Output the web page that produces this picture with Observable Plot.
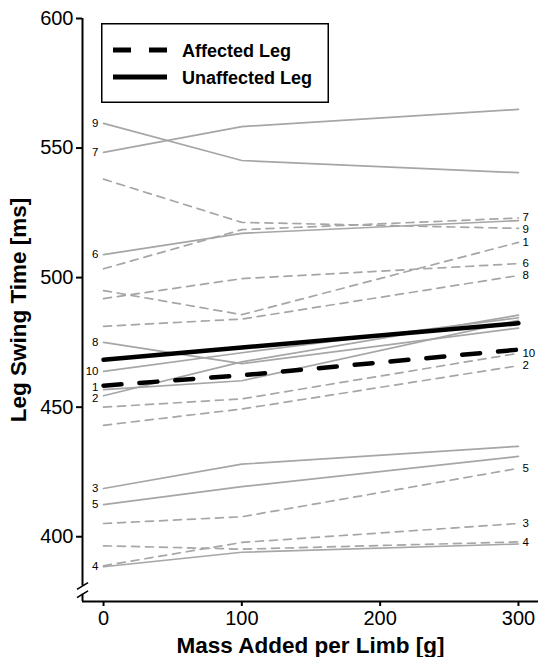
<!DOCTYPE html>
<html><head><meta charset="utf-8">
<script src="https://cdn.jsdelivr.net/npm/d3@7"></script>
<script src="https://cdn.jsdelivr.net/npm/@observablehq/plot@0.6"></script>
<style>
html,body{margin:0;padding:0;background:#fff;}
#wrap{position:relative;width:538px;height:657px;font-family:'Liberation Sans',Arial,sans-serif;}
#legend{position:absolute;left:101px;top:23px;}
</style></head><body><div id="wrap"></div>
<script>
// ---- data ----
const loads = [0, 100, 300];                  // Mass added per limb [g]
const subjects = [1, 2, 3, 4, 5, 6, 7, 8, 9, 10];
// Unaffected leg swing time [ms], one row per subject, values at loads 0/100/300
const unaffected = [
  [456.8, 460.2, 483.5],
  [454.4, 467.5, 485.5],
  [418.6, 428.0, 434.9],
  [388.4, 394.0, 397.2],
  [412.4, 419.3, 431.0],
  [508.9, 517.1, 522.0],
  [548.3, 558.3, 564.9],
  [475.0, 466.8, 480.5],
  [559.5, 545.2, 540.5],
  [463.8, 471.0, 484.5]
];
// Affected leg swing time [ms]
const affected = [
  [495.0, 485.7, 513.6],
  [443.0, 449.3, 466.0],
  [388.8, 397.8, 405.1],
  [396.5, 395.2, 398.0],
  [405.1, 407.7, 426.4],
  [491.9, 499.6, 505.4],
  [503.4, 518.5, 523.0],
  [481.2, 484.0, 500.8],
  [538.0, 521.3, 519.0],
  [450.0, 453.2, 470.8]
];
const meanAffected = [458.3, 462.3, 472.2];
const meanUnaffected = [468.3, 473.0, 482.4];
const xTicks = [0, 100, 200, 300];
const yTicks = [400, 450, 500, 550, 600];
const seriesNames = ["Affected Leg", "Unaffected Leg"];
const xDomain = [-15.2, 314.5];
const yDomain = [375, 600];
const axisBreak = [381.0, 377.8];   // y values where the axis break marks sit

// ---- build tables ----
const rows = [];
subjects.forEach((s, i) => loads.forEach((l, j) => {
  rows.push({subject: s, leg: "U", load: l, t: unaffected[i][j]});
  rows.push({subject: s, leg: "A", load: l, t: affected[i][j]});
}));
const means = [];
loads.forEach((l, j) => {
  means.push({leg: "A", load: l, t: meanAffected[j]});
  means.push({leg: "U", load: l, t: meanUnaffected[j]});
});

// simple label repel in data units
function repel(items, gap) {
  const a = items.slice().sort((p, q) => q.v - p.v);
  for (let k = 0; k < 30; k++) {
    for (let i = 1; i < a.length; i++) {
      const d = a[i - 1].v - a[i].v;
      if (d < gap) { const m = (gap - d) / 2; a[i - 1].v += m; a[i].v -= m; }
    }
  }
  return a;
}
const leftLabels = repel(subjects.map((s, i) => ({label: String(s), v: unaffected[i][0], x: loads[0]})), 4.2);
const rightLabels = repel(subjects.map((s, i) => ({label: String(s), v: affected[i][loads.length - 1], x: loads[loads.length - 1]})), 4.4);

const xMin = xDomain[0];
const axisSegs = [
  {x: xMin, y1: yDomain[1], y2: axisBreak[0]},
  {x: xMin, y1: axisBreak[1], y2: yDomain[0]}
];
const gray = "#a6a6a6";

const plot = Plot.plot({
  width: 538, height: 657,
  marginLeft: 82, marginRight: 0, marginTop: 18, marginBottom: 56,
  x: {domain: xDomain},
  y: {domain: yDomain},
  style: {fontFamily: "'Liberation Sans', Arial, sans-serif", background: "white", color: "black"},
  marks: [
    Plot.axisY({ticks: yTicks, tickSize: 6, tickPadding: 3, fontSize: 20, label: null, strokeWidth: 2}),
    Plot.axisX({ticks: xTicks, tickSize: 5, tickPadding: 4, fontSize: 20, label: null, strokeWidth: 2}),
    Plot.ruleY([yDomain[0]], {strokeWidth: 2}),
    Plot.ruleX(axisSegs, {x: "x", y1: "y1", y2: "y2", strokeWidth: 2}),
    Plot.link(axisBreak, {x1: () => xMin - 4, x2: () => xMin + 4, y1: d => d - 1.3, y2: d => d + 1.3, strokeWidth: 1.6, stroke: "black"}),
    Plot.line(rows.filter(r => r.leg === "U"), {x: "load", y: "t", z: "subject", stroke: gray, strokeWidth: 1.7}),
    Plot.line(rows.filter(r => r.leg === "A"), {x: "load", y: "t", z: "subject", stroke: gray, strokeWidth: 1.7, strokeDasharray: "8,6"}),
    Plot.line(means.filter(r => r.leg === "U"), {x: "load", y: "t", stroke: "black", strokeWidth: 4.5}),
    Plot.line(means.filter(r => r.leg === "A"), {x: "load", y: "t", stroke: "black", strokeWidth: 4.5, strokeDasharray: "18,18"}),
    Plot.text(leftLabels, {x: "x", y: "v", text: "label", textAnchor: "end", dx: -5, fontSize: 11.5, fill: "black"}),
    Plot.text(rightLabels, {x: "x", y: "v", text: "label", textAnchor: "start", dx: 4, fontSize: 11.5, fill: "black"}),
    Plot.text(["Mass Added per Limb [g]"], {frameAnchor: "bottom", lineAnchor: "middle", textAnchor: "middle", dy: 44, fontSize: 22.5, fontWeight: "bold"}),
    Plot.text(["Leg Swing Time [ms]"], {frameAnchor: "left", lineAnchor: "middle", textAnchor: "middle", dx: -64, rotate: -90, fontSize: 22.5, fontWeight: "bold"})
  ]
});
const wrap = document.getElementById("wrap");
wrap.appendChild(plot);

// ---- legend (overlay) ----
const ns = "http://www.w3.org/2000/svg";
const lg = document.createElementNS(ns, "svg");
lg.setAttribute("id", "legend");
lg.setAttribute("width", 228);
lg.setAttribute("height", 80);
const rect = document.createElementNS(ns, "rect");
rect.setAttribute("x", 0.75); rect.setAttribute("y", 0.75);
rect.setAttribute("width", 226.5); rect.setAttribute("height", 78.5);
rect.setAttribute("fill", "white"); rect.setAttribute("stroke", "black"); rect.setAttribute("stroke-width", 1.5);
lg.appendChild(rect);
seriesNames.forEach((name, i) => {
  const y = 27 + i * 27;
  const ln = document.createElementNS(ns, "line");
  ln.setAttribute("x1", 12); ln.setAttribute("x2", 66);
  ln.setAttribute("y1", y); ln.setAttribute("y2", y);
  ln.setAttribute("stroke", "black"); ln.setAttribute("stroke-width", 5);
  if (i === 0) ln.setAttribute("stroke-dasharray", "18,18");
  lg.appendChild(ln);
  const tx = document.createElementNS(ns, "text");
  tx.setAttribute("x", 81); tx.setAttribute("y", y + 6.5);
  tx.setAttribute("font-size", 18); tx.setAttribute("font-weight", "bold");
  tx.setAttribute("font-family", "'Liberation Sans', Arial, sans-serif");
  tx.textContent = name;
  lg.appendChild(tx);
});
wrap.appendChild(lg);
</script></body></html>
